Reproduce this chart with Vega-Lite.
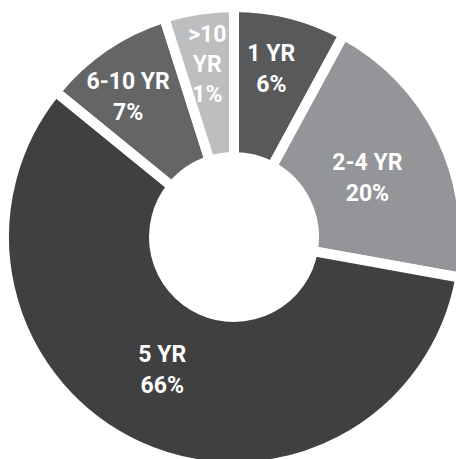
{
  "$schema": "https://vega.github.io/schema/vega-lite/v6.json",
  "width": 456,
  "height": 459,
  "autosize": {"type": "fit", "contains": "padding"},
  "padding": {"left": 12, "top": 15, "right": 0, "bottom": 0},
  "background": "white",
  "config": {"view": {"stroke": null}, "text": {"fill": "white", "font": "Roboto", "fontWeight": "bold", "fontSize": 23, "lineHeight": 31, "lineBreak": "\n", "align": "center", "baseline": "middle"}},
  "data": {
    "values": [
      {"category": "1 YR", "rank": 1, "share": 7.9, "label": "1 YR\n6%"},
      {"category": "2-4 YR", "rank": 2, "share": 19.9, "label": "2-4 YR\n20%"},
      {"category": "5 YR", "rank": 3, "share": 58.0, "label": "5 YR\n66%"},
      {"category": "6-10 YR", "rank": 4, "share": 9.2, "label": "6-10 YR\n7%"},
      {"category": ">10 YR", "rank": 5, "share": 4.9, "label": ">10\nYR\n1%"}
    ]
  },
  "encoding": {
    "theta": {"field": "share", "type": "quantitative", "stack": true},
    "order": {"field": "rank", "type": "quantitative", "sort": "ascending"}
  },
  "layer": [
    {
      "mark": {"type": "arc", "outerRadius": 230, "innerRadius": 80, "stroke": "white", "strokeWidth": 10},
      "encoding": {
        "color": {
          "field": "category",
          "type": "nominal",
          "scale": {
            "domain": ["1 YR", "2-4 YR", "5 YR", "6-10 YR", ">10 YR"],
            "range": ["#58595b", "#939598", "#404041", "#646567", "#bcbec0"]
          },
          "legend": null
        }
      }
    },
    {
      "mark": {"type": "text", "radius": 172, "dy": -16, "dx": -5},
      "encoding": {
        "text": {"field": "label", "type": "nominal"},
        "opacity": {"condition": {"test": "datum.category === '1 YR'", "value": 1}, "value": 0}
      }
    },
    {
      "mark": {"type": "text", "radius": 174, "dy": -11, "dx": -8},
      "encoding": {
        "text": {"field": "label", "type": "nominal"},
        "opacity": {"condition": {"test": "datum.category === '6-10 YR'", "value": 1}, "value": 0}
      }
    },
    {
      "mark": {"type": "text", "radius": 174, "dy": -30, "lineHeight": 30},
      "encoding": {
        "text": {"field": "label", "type": "nominal"},
        "opacity": {"condition": {"test": "datum.category === '>10 YR'", "value": 1}, "value": 0}
      }
    },
    {
      "mark": {"type": "text", "radius": 148, "dy": -10},
      "encoding": {
        "text": {"field": "label", "type": "nominal"},
        "opacity": {"condition": {"test": "datum.category === '2-4 YR'", "value": 1}, "value": 0}
      }
    },
    {
      "mark": {"type": "text", "radius": 148, "dy": -16, "dx": -10},
      "encoding": {
        "text": {"field": "label", "type": "nominal"},
        "opacity": {"condition": {"test": "datum.category === '5 YR'", "value": 1}, "value": 0}
      }
    }
  ]
}
